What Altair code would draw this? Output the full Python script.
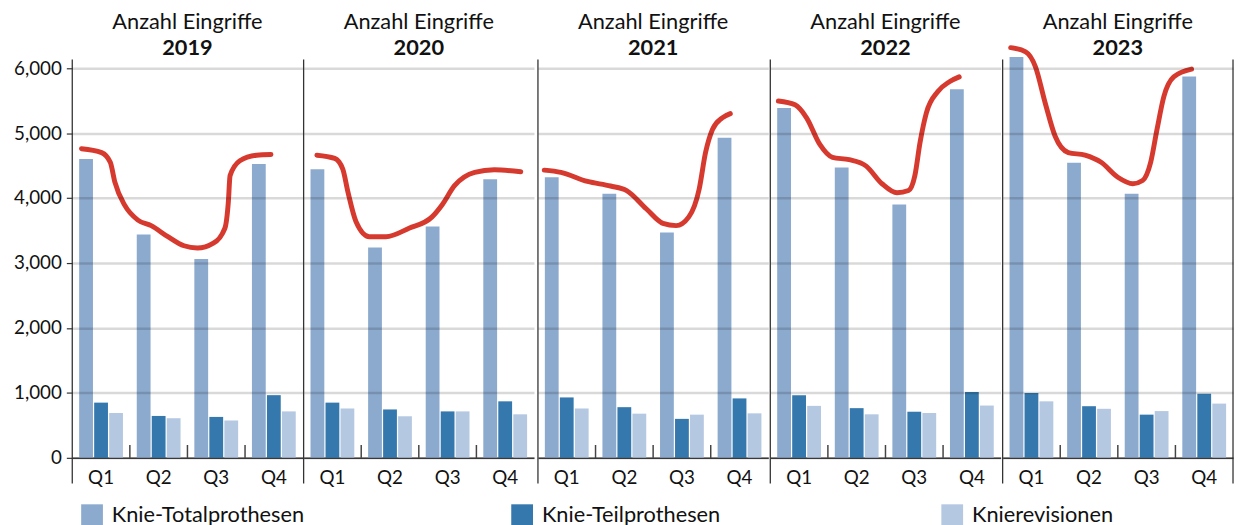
import altair as alt
import pandas as pd

FONT = "Lato"

years = ["2019", "2020", "2021", "2022", "2023"]
quarters = ["Q1", "Q2", "Q3", "Q4"]
series = ["Knie-Totalprothesen", "Knie-Teilprothesen", "Knierevisionen"]
colors = ["#8CAACE", "#3478AD", "#B5C8E2"]

total = {
    "2019": [4600, 3440, 3060, 4525],
    "2020": [4445, 3240, 3560, 4290],
    "2021": [4320, 4065, 3470, 4930],
    "2022": [5385, 4470, 3900, 5675],
    "2023": [6170, 4545, 4065, 5870],
}
partial = {
    "2019": [850, 645, 630, 965],
    "2020": [850, 745, 715, 870],
    "2021": [930, 780, 600, 915],
    "2022": [965, 765, 710, 1015],
    "2023": [1000, 795, 665, 985],
}
revisions = {
    "2019": [690, 610, 575, 715],
    "2020": [760, 640, 715, 670],
    "2021": [760, 680, 665, 685],
    "2022": [800, 670, 690, 805],
    "2023": [870, 755, 720, 835],
}

# red annotation curve: position in quarters (0..4) and value
red_t = {
    "2019": [0.16, 0.51, 0.66, 0.74, 0.91, 1.14, 1.37, 1.66, 1.94, 2.17, 2.45, 2.65, 2.71, 2.74, 2.91, 3.20, 3.45],
    "2020": [0.23, 0.54, 0.68, 0.77, 0.91, 1.14, 1.43, 1.83, 2.23, 2.40, 2.62, 2.97, 3.31, 3.77],
    "2021": [0.11, 0.40, 0.86, 1.26, 1.54, 1.88, 2.17, 2.40, 2.62, 2.80, 2.91, 3.03, 3.20, 3.34],
    "2022": [0.14, 0.43, 0.63, 0.86, 1.08, 1.37, 1.66, 1.94, 2.20, 2.40, 2.51, 2.60, 2.71, 2.91, 3.11, 3.28],
    "2023": [0.14, 0.40, 0.57, 0.74, 0.91, 1.14, 1.43, 1.71, 2.00, 2.26, 2.43, 2.57, 2.68, 2.80, 2.97, 3.28],
}
red_v = {
    "2019": [4760, 4700, 4550, 4245, 3890, 3660, 3575, 3405, 3265, 3230, 3305, 3535, 3940, 4345, 4575, 4660, 4670],
    "2020": [4660, 4610, 4445, 4090, 3635, 3405, 3405, 3535, 3710, 3890, 4190, 4395, 4435, 4405],
    "2021": [4430, 4395, 4255, 4185, 4115, 3835, 3610, 3575, 3710, 4140, 4700, 5055, 5235, 5300],
    "2022": [5495, 5435, 5235, 4825, 4625, 4590, 4495, 4220, 4080, 4115, 4345, 4855, 5310, 5640, 5790, 5865],
    "2023": [6315, 6250, 6020, 5460, 4955, 4700, 4660, 4550, 4320, 4220, 4270, 4550, 5055, 5565, 5865, 5985],
}

y_ticks = [0, 1000, 2000, 3000, 4000, 5000, 6000]

W, H = 233, 427
YMAX = 6500
SEP_TOP = 24  # frame lines start a little below the top of the (extended) plot

rows = []
for yr in years:
    for qi, q in enumerate(quarters):
        rows.append({"year": yr, "quarter": q, "series": series[0], "value": total[yr][qi]})
        rows.append({"year": yr, "quarter": q, "series": series[1], "value": partial[yr][qi]})
        rows.append({"year": yr, "quarter": q, "series": series[2], "value": revisions[yr][qi]})
df = pd.DataFrame(rows)

legend = alt.Legend(
    orient="none", legendX=9, legendY=474, direction="horizontal", columns=3,
    gridAlign="all", columnPadding=209, title=None, symbolType="square",
    symbolSize=484, symbolStrokeWidth=0, symbolOpacity=1, labelFontSize=22, labelFont=FONT,
    labelColor="#111111", labelOffset=9, labelLimit=400, padding=0,
)

yscale = alt.Scale(domain=[0, YMAX], nice=False, zero=True)


def panel(i, yr):
    first = i == 0
    d = df[df.year == yr]
    yaxis = alt.Axis(
        values=y_ticks, format=",d", title=None, grid=True, gridColor="#000000",
        gridOpacity=0.15, gridWidth=2.5, domain=False, ticks=first, tickSize=6,
        tickColor="#333333", tickWidth=1.2, labels=first, labelFontSize=19,
        labelFont=FONT, labelColor="#111111", labelPadding=5, zindex=1,
        minExtent=65 if first else 0, maxExtent=65 if first else 0,
    )
    bars = alt.Chart(d).mark_bar().encode(
        x=alt.X("quarter:N", sort=quarters,
                scale=alt.Scale(paddingInner=0, paddingOuter=0),
                axis=alt.Axis(title=None, labelAngle=0, ticks=False, domain=True,
                              domainColor="#444444", domainWidth=1.5, labelFontSize=19,
                              labelFont=FONT, labelColor="#111111", labelPadding=11,
                              grid=False)),
        xOffset=alt.XOffset("series:N", sort=series,
                            scale=alt.Scale(paddingInner=0.08, paddingOuter=0.46)),
        y=alt.Y("value:Q", scale=yscale, axis=yaxis),
        color=alt.Color("series:N", sort=series,
                        scale=alt.Scale(domain=series, range=colors), legend=legend),
    )
    ticks = alt.Chart(pd.DataFrame({"quarter": quarters[1:]})).mark_rule(
        color="#444444", strokeWidth=1.5
    ).encode(
        x=alt.X("quarter:N", sort=quarters, bandPosition=0),
        y=alt.value(H), y2=alt.value(H - 13),
    )
    seps = [alt.Chart(pd.DataFrame({"a": [0]})).mark_rule(color="#333333", strokeWidth=1.3).encode(
        x=alt.value(0), y=alt.value(SEP_TOP), y2=alt.value(H + 26))]
    if i == len(years) - 1:
        seps.append(alt.Chart(pd.DataFrame({"a": [0]})).mark_rule(color="#333333", strokeWidth=1.3).encode(
            x=alt.value(W), y=alt.value(SEP_TOP), y2=alt.value(H + 26)))
    ldf = pd.DataFrame({"t": red_t[yr], "v": red_v[yr]})
    line = alt.Chart(ldf).mark_line(
        color="#D63A2F", strokeWidth=5, interpolate="monotone", strokeCap="round"
    ).encode(
        x=alt.X("t:Q", scale=alt.Scale(domain=[0, 4], nice=False, zero=False), axis=None),
        y=alt.Y("v:Q", scale=yscale, axis=yaxis),
    )
    inner = alt.layer(bars, ticks, *seps)
    return alt.layer(inner, line).resolve_scale(x="independent").properties(
        width=W, height=H,
        title=alt.TitleParams(
            text="Anzahl Eingriffe", subtitle=yr, fontSize=22, fontWeight="normal",
            subtitleFontSize=22, subtitleFontWeight="bold", font=FONT, subtitleFont=FONT,
            color="#111111", subtitleColor="#111111", anchor="middle", offset=-25,
            subtitlePadding=5, frame="group",
        ),
    )


chart = alt.hconcat(*[panel(i, yr) for i, yr in enumerate(years)], spacing=0).configure_view(
    stroke=None
).properties(padding={"left": 0, "top": 0, "right": 0, "bottom": 0})

chart.save("out.html", embed_options={"renderer": "svg", "actions": False})
